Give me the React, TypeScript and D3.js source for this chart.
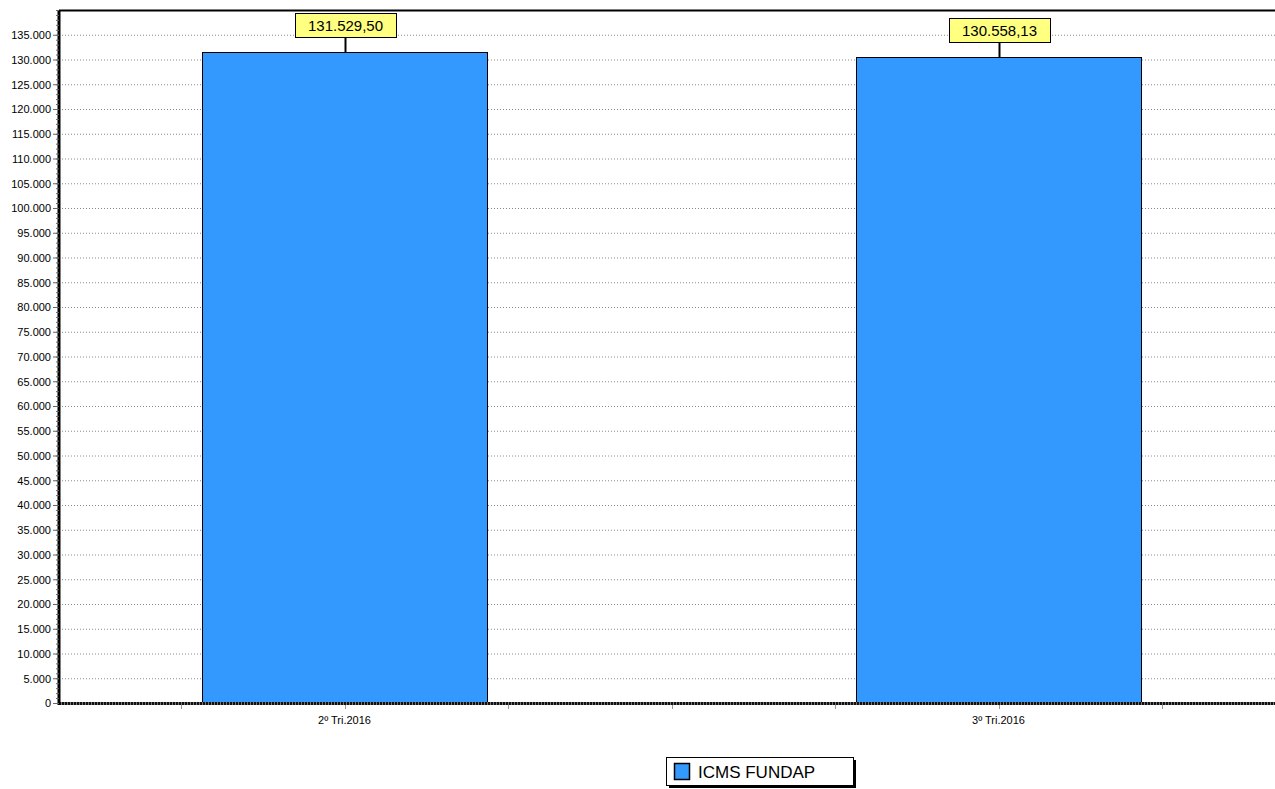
import { scaleLinear, range, formatLocale } from "d3";

const categories = ["2º Tri.2016", "3º Tri.2016"];
const values = [131529.5, 130558.13];
const seriesName = "ICMS FUNDAP";
const yMax = 140000;
const yStep = 5000;

const W = 1275;
const H = 789;
const margin = { top: 10, left: 59, bottom: 86 };
const barColor = "#3399ff";
const font = "Arial, 'Liberation Sans', sans-serif";

const br = formatLocale({ decimal: ",", thousands: ".", grouping: [3], currency: ["R$", ""] });
const fmtTick = br.format(",d");
const fmtValue = br.format(",.2f");

const App = () => {
  const yBottom = H - margin.bottom;
  const yScale = scaleLinear().domain([0, yMax]).range([yBottom, margin.top]);
  // category positions: each category one unit wide, x axis ticks every quarter
  const xScale = scaleLinear().domain([-0.5, 1.5]).range([17.5, 1325.5]);
  const barHalf = 0.218;

  const majorTicks = range(0, 135001, yStep);
  const minorTicks = range(0, yMax + 1, 1000);
  const xTicks = range(-0.25, 1.51, 0.25).filter(
    (t) => xScale(t) > margin.left + 2 && xScale(t) < W
  );

  return (
    <svg
      width={W}
      height={H}
      style={{ position: "absolute", left: 0, top: 0, background: "#fff" }}
      fontFamily={font}
    >
      {/* grid */}
      {majorTicks.filter((t) => t > 0).map((t, i) => (
        <line
          key={i}
          x1={margin.left}
          x2={W}
          y1={yScale(t) + 0.5}
          y2={yScale(t) + 0.5}
          stroke="#8a8a8a"
          strokeDasharray="1,2"
        />
      ))}
      {/* top border */}
      <line x1={margin.left} x2={W} y1={margin.top + 0.5} y2={margin.top + 0.5} stroke="#000" strokeWidth={2} />

      {/* bars */}
      {values.map((v, i) => (
        <rect
          key={i}
          x={Math.round(xScale(i - barHalf)) + 0.5}
          y={Math.round(yScale(v)) + 0.5}
          width={Math.round(xScale(i + barHalf) - xScale(i - barHalf))}
          height={Math.round(yBottom - yScale(v))}
          fill={barColor}
          stroke="#000"
        />
      ))}

      {/* x axis */}
      <line x1={margin.left} x2={W} y1={yBottom + 0.5} y2={yBottom + 0.5} stroke="#777" strokeWidth={3} />
      <line x1={margin.left} x2={W} y1={yBottom + 0.5} y2={yBottom + 0.5} stroke="#111" strokeWidth={3} strokeDasharray="2,1" />
      {xTicks.map((t, i) => (
        <line
          key={i}
          x1={Math.round(xScale(t)) + 0.5}
          x2={Math.round(xScale(t)) + 0.5}
          y1={yBottom + 2}
          y2={yBottom + 6}
          stroke="#999"
        />
      ))}
      {categories.map((c, i) => (
        <text key={i} x={xScale(i)} y={yBottom + 21} textAnchor="middle" fontSize={11} fill="#000">
          {c}
        </text>
      ))}

      {/* y axis */}
      <line x1={margin.left} x2={margin.left} y1={margin.top} y2={yBottom + 2} stroke="#000" strokeWidth={3} />
      {minorTicks.map((t, i) => (
        <line
          key={i}
          x1={margin.left - 3}
          x2={margin.left}
          y1={yScale(t) + 0.5}
          y2={yScale(t) + 0.5}
          stroke="#666"
        />
      ))}
      {majorTicks.map((t, i) => (
        <g key={i} transform={`translate(0,${yScale(t) + 0.5})`}>
          <line x1={margin.left - 6} x2={margin.left} stroke="#666" />
          <text x={margin.left - 8} dy="0.35em" textAnchor="end" fontSize={11} fill="#000">
            {fmtTick(t)}
          </text>
        </g>
      ))}

      {/* value labels */}
      {values.map((v, i) => {
        const cx = Math.round(xScale(i)) + 0.5;
        const top = Math.round(yScale(v));
        const boxH = 24;
        const boxW = 101;
        const boxBottom = top - 15;
        return (
          <g key={i}>
            <line x1={cx} x2={cx} y1={boxBottom} y2={top} stroke="#000" strokeWidth={2} />
            <rect
              x={Math.round(cx - boxW / 2) + 0.5}
              y={boxBottom - boxH + 0.5}
              width={boxW}
              height={boxH}
              fill="#ffff80"
              stroke="#000"
            />
            <text x={cx} y={boxBottom - 6} textAnchor="middle" fontSize={15} fill="#000">
              {fmtValue(v)}
            </text>
          </g>
        );
      })}

      {/* legend */}
      <g transform="translate(666,757)">
        <rect x={3} y={3} width={187} height={28} fill="#000" />
        <rect x={0.5} y={0.5} width={187} height={28} fill="#fff" stroke="#000" />
        <rect x={8.5} y={6.5} width={15} height={16} fill={barColor} stroke="#000" strokeWidth={1.5} />
        <text x={32} y={21} fontSize={17} fill="#000">
          {seriesName}
        </text>
      </g>
    </svg>
  );
};

export default App;
